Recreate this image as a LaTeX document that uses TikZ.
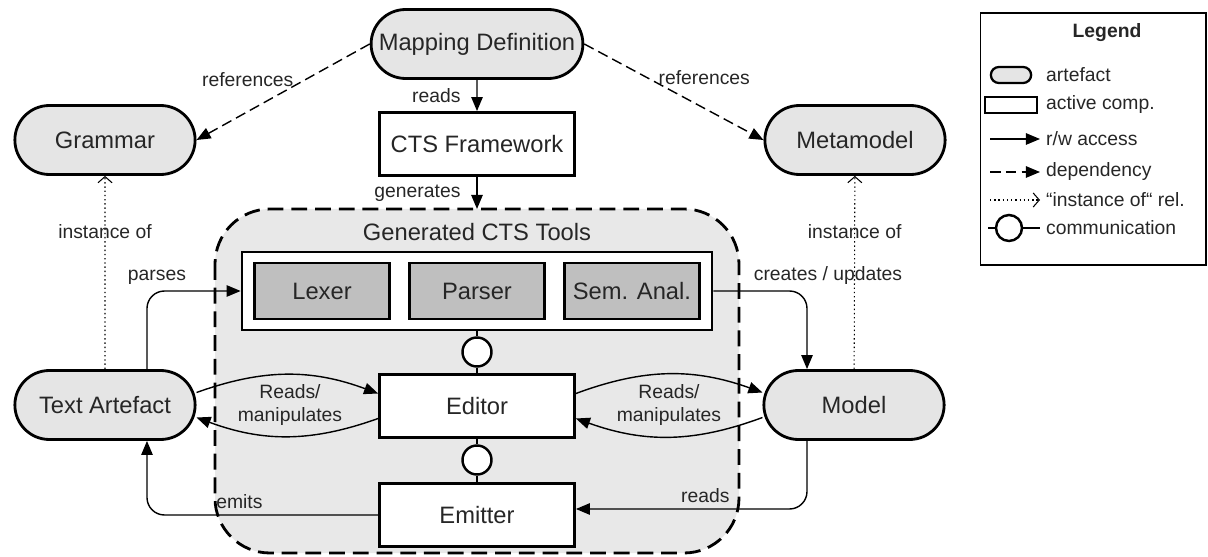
\documentclass[tikz,border=0pt]{standalone}
\usepackage{fontspec}
\setmainfont{Liberation Sans}
\usetikzlibrary{arrows.meta, positioning, shapes.misc}

\newcommand{\bigfont}{\fontsize{13.5}{15}\selectfont}
\newcommand{\lblfont}{\fontsize{11}{13}\selectfont}

\tikzset{
    artefact/.style={draw, rounded rectangle, fill=gray!20, line width=1.6pt, text=black!85,
        minimum width=3.84cm, minimum height=1.38cm, font=\bigfont},
    activecomp/.style={draw, rectangle, fill=white, line width=1.6pt, text=black!85,
        minimum width=3.9cm, minimum height=1.26cm, font=\bigfont},
    subcomp/.style={activecomp, fill=gray!50, minimum width=2.7cm, minimum height=1.12cm},
    region/.style={fill=gray!18, line width=1.6pt, dash pattern=on 9pt off 4.5pt, rounded corners=1.1cm},
    lbl/.style={font=\lblfont, text=black!85},
    rw/.style={-{Triangle[length=8pt,width=6.5pt]}, line width=0.8pt},
    dep/.style={rw, dash pattern=on 6pt off 3pt},
    inst/.style={-{Straight Barb[length=3.5pt,width=8pt]}, line width=0.6pt, dash pattern=on 0.8pt off 1.6pt},
    comm/.style={draw, circle, fill=white, line width=1.4pt, minimum size=0.58cm, inner sep=0pt},
}

\begin{document}
\begin{tikzpicture}[x=0.02cm, y=-0.02cm, node distance=3.1cm]
    \useasboundingbox (0,0) rectangle (1208,557);
    %
    \draw[region] (215,209) rectangle (739,553);
    \coordinate (regtop) at (477,209);
    %
    \node[artefact] (mapdef) at (477,44) {Mapping Definition};
    \node[activecomp, below of=mapdef, node distance=2cm] (cts) {CTS Framework};
    \node[artefact] (grammar) at (105,140) {Grammar};
    \node[artefact] (metamodel) at (855,140) {Metamodel};
    \node[artefact] (ta) at (105,405) {Text Artefact};
    \node[artefact] (model) at (854,405) {Model};
    %
    \node[lbl, font=\bigfont] (toolstitle) at (477,232) {Generated CTS Tools};
    \node[activecomp, minimum width=9.4cm, minimum height=1.56cm] (tools) at (477,291) {};
    \node[subcomp] (lexer) at (322,291) {Lexer};
    \node[subcomp, right of=lexer] (parser) {Parser};
    \node[subcomp, right of=parser] (semanal) {Sem. Anal.};
    \node[activecomp] (editor) at (477,406) {Editor};
    \node[activecomp] (emitter) at (477,515) {Emitter};
    \node[comm] (c1) at (477,352) {};
    \node[comm] (c2) at (477,460) {};
    %
    \draw[line width=0.8pt] (tools.south) -- (c1.north);
    \draw[line width=0.8pt] (c1.south) -- (editor.north);
    \draw[line width=0.8pt] (editor.south) -- (c2.north);
    \draw[line width=0.8pt] (c2.south) -- (emitter.north);
    %
    \draw[rw] (mapdef) -- node[lbl, left, xshift=-0.2cm] (lreads) {reads} (cts);
    \draw[rw] (cts) -- node[lbl, left, xshift=-0.2cm] (lgen) {generates} (regtop);
    \draw[dep] (mapdef.west) -- node[lbl, midway, anchor=south east, inner sep=0pt, xshift=0.22cm, yshift=0.1cm] (lref1) {references} (grammar.east);
    \draw[dep] (mapdef.east) -- node[lbl, midway, anchor=south west, inner sep=0pt, xshift=-0.32cm, yshift=0.14cm] (lref2) {references} (metamodel.west);
    \draw[inst] (ta) -- node[lbl, pos=0.71] (linst1) {instance of} (grammar);
    \draw[inst] (model) -- node[lbl, pos=0.71] (linst2) {instance of} (metamodel);
    %
    \draw[rw, rounded corners=0.35cm] ([xshift=0.84cm]ta.north) |- node[lbl, pos=0.5, above, xshift=0.2cm] (lparse) {parses} (tools.west);
    \draw[rw, rounded corners=0.35cm] (tools.east) -| node[lbl, pos=0.5, above, xshift=0.42cm] (lcreate) {creates / updates} ([xshift=-0.94cm]model.north);
    \draw[rw, rounded corners=0.35cm] (emitter.west) -| node[lbl, pos=0.3, above] (lemit) {emits} ([xshift=0.84cm]ta.south);
    \draw[rw, rounded corners=0.35cm] ([xshift=-0.94cm]model.south) |- node[lbl, pos=0.72, above] (lreads2) {reads} ([yshift=0.12cm]emitter.east);
    %
    \draw[rw] ([yshift=0.25cm]ta.east) to[bend left=20] ([yshift=0.25cm]editor.west);
    \draw[rw] ([yshift=-0.25cm]editor.west) to[bend left=20] ([yshift=-0.25cm]ta.east);
    \node[lbl, align=center] (lrm1) at (290,405) {Reads/\\manipulates};
    \draw[rw] ([yshift=0.25cm]editor.east) to[bend left=20] ([yshift=0.25cm]model.west);
    \draw[rw] ([yshift=-0.25cm]model.west) to[bend left=20] ([yshift=-0.25cm]editor.east);
    \node[lbl, align=center] (lrm2) at (669,405) {Reads/\\manipulates};
    %
    % legend
    \node[draw, line width=0.6pt, minimum width=4.52cm, minimum height=5.04cm] (legend) at (1093,139) {};
    \node[lbl, font=\lblfont\bfseries] (legtitle) at (1107,33) {Legend};
    \node[artefact, minimum width=1.04cm, minimum height=0.32cm, line width=1.3pt] (legart) at (1011,75) {};
    \node[lbl, anchor=west] (legartl) at (1040,75) {artefact};
    \node[activecomp, minimum width=1.04cm, minimum height=0.32cm, line width=1.3pt] (legact) at (1011,105) {};
    \node[lbl, anchor=west] (legactl) at (1040,105) {active comp.};
    \coordinate (rwa) at (990,139);
    \node[lbl, anchor=west] (legrw) at (1040,139) {r/w access};
    \draw[rw] (rwa) -- (legrw.west);
    \coordinate (depa) at (990,172);
    \node[lbl, anchor=west] (legdep) at (1040,172) {dependency};
    \draw[dep] (depa) -- (legdep.west);
    \coordinate (insta) at (990,200);
    \node[lbl, anchor=west] (leginst) at (1040,200) {“instance of“ rel.};
    \draw[inst] (insta) -- (leginst.west);
    \coordinate (comma) at (988,228);
    \node[comm, minimum size=0.52cm] (legcomm) at (1009,228) {};
    \node[lbl, anchor=west] (legcomml) at (1040,228) {communication};
    \draw[line width=0.8pt] (comma) -- (legcomm.west);
    \draw[line width=0.8pt] (legcomm.east) -- (legcomml.west);
\end{tikzpicture}
\end{document}
